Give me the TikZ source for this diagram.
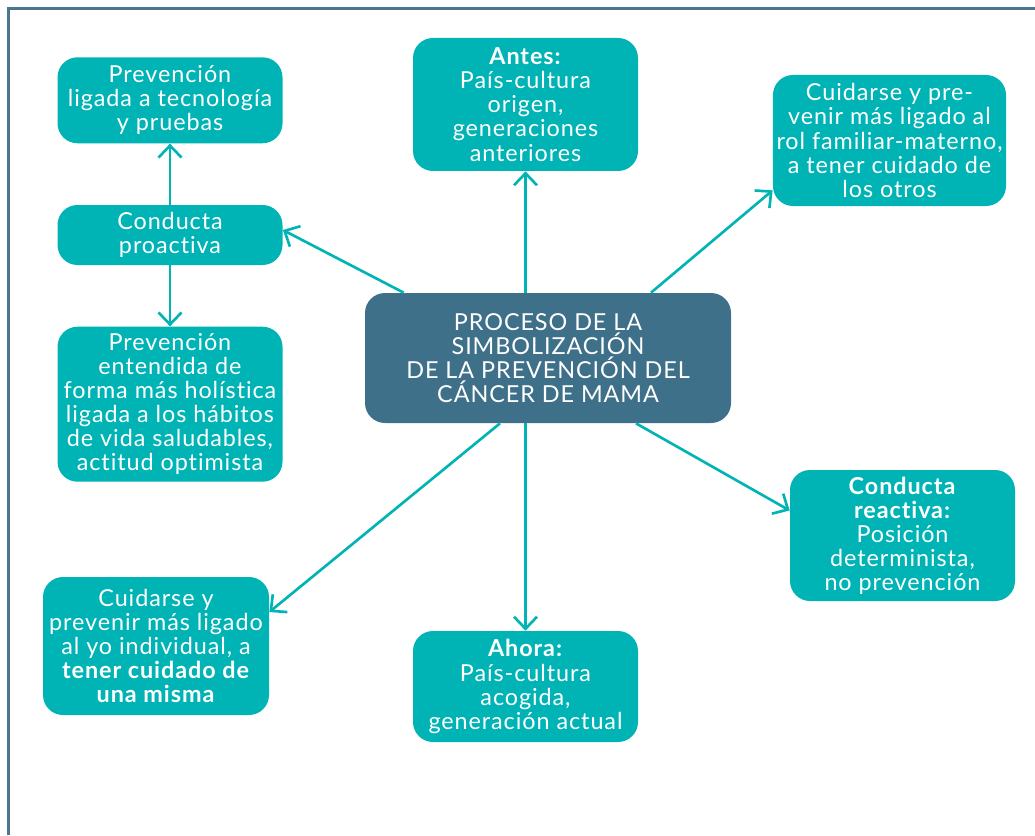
\documentclass[tikz,border=0pt]{standalone}
\usepackage{fontspec}
\setmainfont{Lato}[LetterSpace=4, Ligatures=CommonOff]
\usepackage{tikz}
\usetikzlibrary{positioning, arrows.meta}
\definecolor{mapTeal}{HTML}{00B3B5}
\definecolor{mapSlate}{HTML}{3F7089}
\definecolor{mapFrame}{HTML}{4C7590}

\begin{document}
\begin{tikzpicture}[
  node distance=1.22cm,
  every node/.style={font=\fontsize{13.3}{13.7}\selectfont, text=white},
  box/.style={fill=mapTeal, rounded corners=0.4cm, minimum width=4.5cm,
              align=center, inner sep=2pt},
  core/.style={fill=mapSlate, rounded corners=0.4cm, minimum width=7.32cm,
               minimum height=2.6cm, align=center, inner sep=2pt},
  arr/.style={-{Straight Barb[length=2.4mm, width=4.6mm]}, mapTeal, line width=1.5pt}
]
\useasboundingbox (0,0) rectangle (20.7,16.7);
\draw[mapFrame, line width=0.06cm] (0.16,0) -- (0.16,16.52) -- (20.7,16.52);

\node[core] (center) at (10.96,9.54)
  {PROCESO DE LA\\ SIMBOLIZACIÓN\\ DE LA PREVENCIÓN DEL\\ CÁNCER DE MAMA};

% left column
\node[box, minimum height=1.2cm] (proactive) at (3.4,12.0) {Conducta\\ proactiva};
\node[box, minimum height=1.72cm, above=of proactive] (prevTech)
  {Prevención\\ ligada a tecnología\\ y pruebas};
\node[box, minimum height=3.1cm, below=of proactive] (holistic)
  {Prevención\\ entendida de\\ forma más holística\\ ligada a los hábitos\\ de vida saludables,\\ actitud optimista};

\node[box, minimum height=2.66cm] (antes) at (10.51,14.61)
  {\textbf{Antes:}\\ País-cultura\\ origen,\\ generaciones\\ anteriores};
\node[box, minimum height=2.62cm] (otros) at (17.79,13.89)
  {Cuidarse y pre-\\ venir más ligado al\\ rol familiar-materno,\\ a tener cuidado de\\ los otros};
\node[box, minimum height=2.62cm] (reactiva) at (18.05,5.99)
  {\textbf{Conducta}\\ \textbf{reactiva:}\\ Posición\\ determinista,\\ no prevención};
\node[box, minimum height=2.22cm] (ahora) at (10.51,2.97)
  {\textbf{Ahora:}\\ País-cultura\\ acogida,\\ generación actual};
\node[box, minimum width=4.52cm, minimum height=2.76cm] (misma) at (3.12,3.78)
  {Cuidarse y\\ prevenir más ligado\\ al yo individual, a\\ \textbf{tener cuidado de}\\ \textbf{una misma}};

\draw[arr] (proactive) -- (prevTech);
\draw[arr] (proactive) -- (holistic);
\draw[arr] ([xshift=0.78cm]center.north west) -- ([yshift=0.1cm]proactive.east);
\draw[arr] (center.north -| antes.south) -- (antes.south);
\draw[arr] ([xshift=2.06cm]center.north) -- ([yshift=0.32cm]otros.south west);
\draw[arr] ([xshift=1.76cm]center.south) -- ([yshift=0.5cm]reactiva.west);
\draw[arr] ([xshift=-0.96cm]center.south) -- ([yshift=0.68cm]misma.east);
\draw[arr] (center.south -| ahora.north) -- (ahora.north);
\end{tikzpicture}
\end{document}
